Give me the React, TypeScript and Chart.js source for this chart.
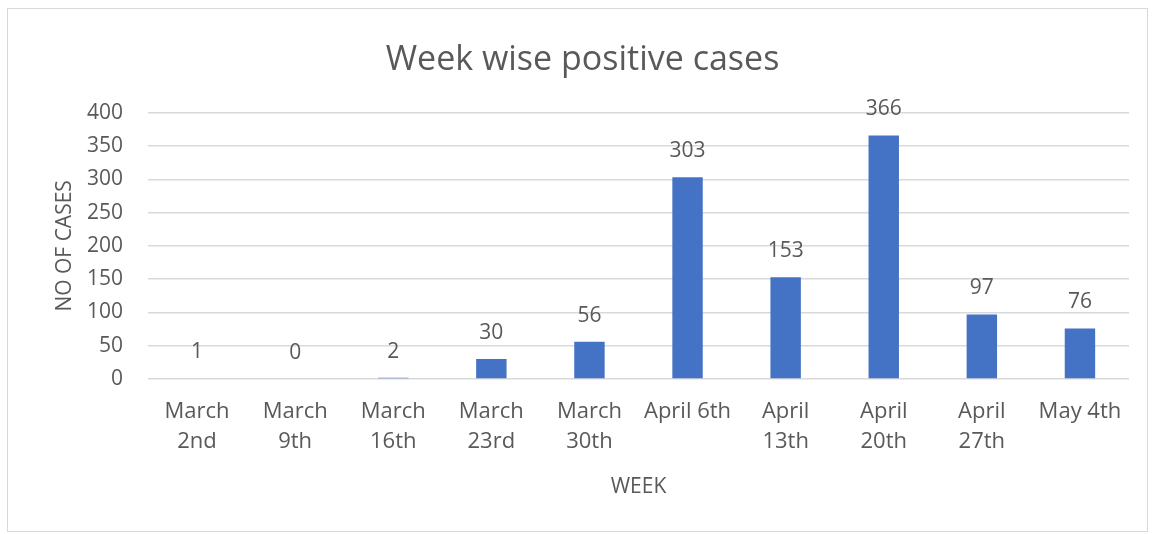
import React, { useEffect, useRef } from "react";
import { Chart, registerables } from "chart.js";

Chart.register(...registerables);

const categories: string[][] = [
  ["March", "2nd"],
  ["March", "9th"],
  ["March", "16th"],
  ["March", "23rd"],
  ["March", "30th"],
  ["April 6th"],
  ["April", "13th"],
  ["April", "20th"],
  ["April", "27th"],
  ["May 4th"],
];
const cases: number[] = [1, 0, 2, 30, 56, 303, 153, 366, 97, 76];
const yTicks: number[] = [0, 50, 100, 150, 200, 250, 300, 350, 400];

const FONT = "'Open Sans', sans-serif";
const TEXT = "#595959";

const labelPlugin = {
  id: "valueLabels",
  afterDatasetsDraw(chart: any) {
    const ctx = chart.ctx;
    const meta = chart.getDatasetMeta(0);
    ctx.save();
    ctx.font = `21px ${FONT}`;
    ctx.fillStyle = TEXT;
    ctx.textAlign = "center";
    ctx.textBaseline = "middle";
    meta.data.forEach((bar: any, i: number) => {
      ctx.fillText(String(chart.data.datasets[0].data[i]), bar.x, bar.y - 26);
    });
    ctx.restore();
  },
};

export default function App() {
  const ref = useRef<HTMLCanvasElement>(null);
  useEffect(() => {
    if (!ref.current) return;
    const chart = new Chart(ref.current, {
      type: "bar",
      data: {
        labels: categories,
        datasets: [
          {
            data: cases,
            backgroundColor: "#4472C4",
            barPercentage: 0.62,
            categoryPercentage: 0.5,
          },
        ],
      },
      options: {
        animation: false,
        responsive: true,
        maintainAspectRatio: false,
        layout: { padding: { top: 10, right: 18, bottom: 31, left: 28 } },
        plugins: {
          legend: { display: false },
          tooltip: { enabled: false },
          title: {
            display: true,
            text: "Week wise positive cases",
            color: TEXT,
            font: { family: FONT, size: 34, weight: "normal" },
            padding: { top: 21, bottom: 32 },
          },
        },
        scales: {
          x: {
            grid: { display: false, drawTicks: false },
            border: { display: false },
            ticks: {
              color: TEXT,
              font: { family: FONT, size: 22, lineHeight: 1.36 },
              padding: 18,
              maxRotation: 0,
              autoSkip: false,
            },
            title: {
              display: true,
              text: "WEEK",
              color: TEXT,
              font: { family: FONT, size: 21 },
              padding: { top: 0, bottom: 0 },
            },
          },
          y: {
            min: 0,
            max: 400,
            afterBuildTicks: (axis: any) => {
              axis.ticks = yTicks.map((v) => ({ value: v }));
            },
            afterFit: (axis: any) => {
              axis.width = 112;
            },
            grid: { color: "#d9d9d9", lineWidth: 1.5, drawTicks: false },
            border: { display: false },
            ticks: {
              color: TEXT,
              font: { family: FONT, size: 21 },
              padding: 25,
            },
            title: {
              display: true,
              text: "NO OF CASES",
              color: TEXT,
              font: { family: FONT, size: 21 },
              padding: { top: 16, bottom: 8 },
            },
          },
        },
      },
      plugins: [labelPlugin],
    });
    return () => chart.destroy();
  }, []);
  return (
    <div
      style={{
        position: "absolute",
        left: 7,
        top: 8,
        width: 1141,
        height: 524,
        border: "1.5px solid #d9d9d9",
        boxSizing: "border-box",
        background: "#fff",
      }}
    >
      <canvas ref={ref} />
    </div>
  );
}
